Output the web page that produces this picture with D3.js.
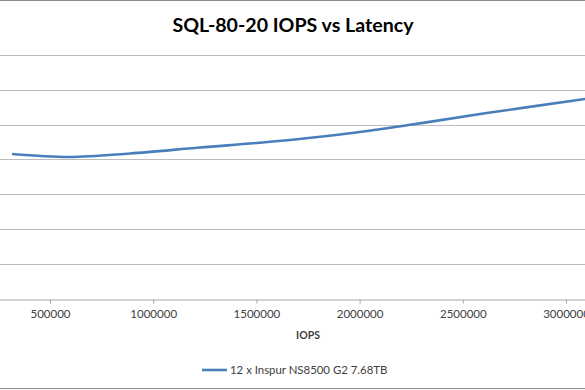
<!DOCTYPE html>
<html><head><meta charset="utf-8">
<script src="https://cdn.jsdelivr.net/npm/d3@7"></script>
<style>html,body{margin:0;padding:0;background:#fff;overflow:hidden}</style>
</head><body>
<svg id="c" width="585" height="390"></svg>
<script>
const title = "SQL-80-20 IOPS vs Latency";
const seriesName = "12 x Inspur NS8500 G2 7.68TB";
const xTicks = [500000, 1000000, 1500000, 2000000, 2500000, 3000000];
const yTicks = [0, 0.1, 0.2, 0.3, 0.4, 0.5, 0.6, 0.7];
const iops = [315900, 596900, 887600, 1226700, 1565900, 1905000, 2244200, 2607600, 3092100, 3198700];
const latency = [0.4154, 0.4067, 0.4168, 0.4341, 0.4505, 0.4715, 0.4993, 0.5324, 0.5735, 0.5827];

const svg = d3.select("#c");
const font = "Lato, 'Liberation Sans', sans-serif";
const x = d3.scaleLinear().domain([0, 3500000]).range([-53.2, 669.2]);
const y = d3.scaleLinear().domain([0, 0.7]).range([298.5, 55]);

svg.append("rect").attr("x",0).attr("y",0).attr("width",585).attr("height",390).attr("fill","#fff");
// chart border (top & bottom visible)
svg.append("line").attr("x1",0).attr("x2",585).attr("y1",0.5).attr("y2",0.5).attr("stroke","#8c8c8c");
svg.append("line").attr("x1",0).attr("x2",585).attr("y1",388.5).attr("y2",388.5).attr("stroke","#8c8c8c");

// gridlines
svg.append("g").selectAll("line").data(yTicks.slice(1)).join("line")
  .attr("x1",-60).attr("x2",700)
  .attr("y1",d=>Math.round(y(d))+0.5).attr("y2",d=>Math.round(y(d))+0.5)
  .attr("stroke","#bdbdbd").attr("stroke-width",1);

// x axis
const xAxis = d3.axisBottom(x).tickValues(xTicks).tickSize(4).tickSizeOuter(0).tickFormat(d3.format("d"));
const gx = svg.append("g").attr("transform",`translate(0,${Math.round(y(0))+0.5})`).call(xAxis);
gx.select(".domain").attr("stroke","#a6a6a6");
gx.selectAll(".tick line").attr("stroke","#a6a6a6");
gx.selectAll(".tick text").attr("fill","#404040").attr("font-family",font).attr("font-size","11.5px").attr("dy","0.9em").attr("y",8);

// line
const line = d3.line().x((d,i)=>x(iops[i])).y(d=>y(d)).curve(d3.curveCatmullRom.alpha(0.5));
svg.append("path").attr("d", line(latency)).attr("fill","none").attr("stroke","#4a7ebb").attr("stroke-width",2.6);

// title
svg.append("text").attr("x",293).attr("y",32).attr("text-anchor","middle")
  .attr("font-family",font).attr("font-weight","bold").attr("font-size","19.6px").attr("fill","#000").text(title);
// axis title
svg.append("text").attr("x",308).attr("y",339).attr("text-anchor","middle")
  .attr("font-family",font).attr("font-weight","bold").attr("font-size","10.5px").attr("fill","#404040").text("IOPS");
// legend
svg.append("line").attr("x1",202).attr("x2",227).attr("y1",370).attr("y2",370).attr("stroke","#4a7ebb").attr("stroke-width",2.6);
svg.append("text").attr("x",230).attr("y",374).attr("font-family",font).attr("font-size","11.4px").attr("fill","#404040").text(seriesName);
</script>
</body></html>
